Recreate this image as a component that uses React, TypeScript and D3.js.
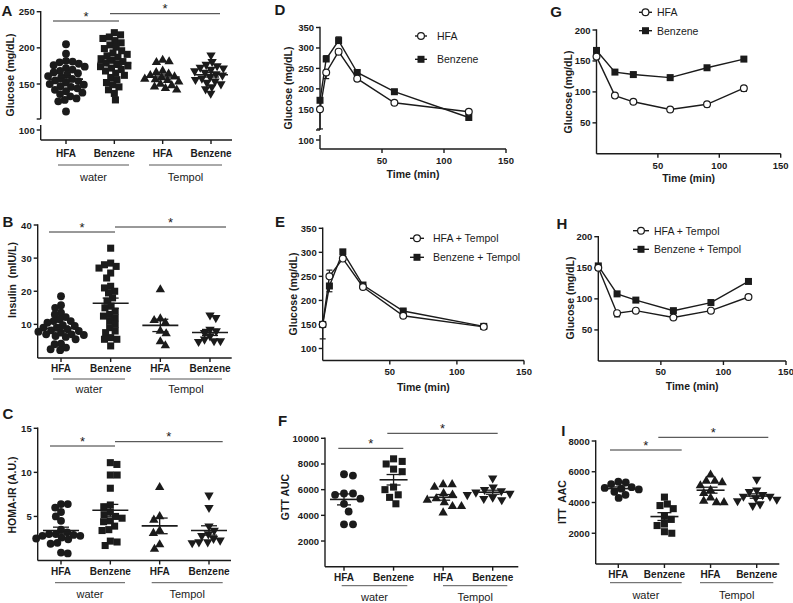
import React, { useEffect, useRef } from 'react';
import * as d3 from 'd3';

const FONT = '"Liberation Sans", Arial, Helvetica, sans-serif';
const INK = '#1b1b1b';

// ---------- category / group labels ----------
const groupLabels = ['HFA', 'Benzene', 'HFA', 'Benzene'];
const treatmentLabels = ['water', 'Tempol'];

// ---------- A: fasting glucose (mg/dL) ----------
const glucoseWaterHFA = [205, 192, 182, 181, 180, 178, 176, 174, 172, 170, 168, 166, 165, 163, 161, 159, 157, 155, 154, 152, 150, 149, 147, 146, 144, 142, 140, 138, 136, 133, 130, 128, 126, 112];
const glucoseWaterBenzene = [221, 218, 215, 213, 210, 207, 204, 201, 199, 196, 193, 191, 189, 187, 185, 183, 181, 179, 177, 175, 174, 172, 170, 168, 165, 162, 159, 156, 152, 149, 146, 142, 137, 128];
const glucoseTempolHFA = [183, 181, 180, 168, 166, 164, 162, 160, 159, 157, 156, 155, 153, 150, 148, 146, 144, 142];
const glucoseTempolBenzene = [190, 181, 177, 175, 173, 172, 170, 168, 166, 164, 162, 160, 158, 156, 154, 152, 150, 146, 143, 137];
const glucoseTicks = [150, 200, 250];

// ---------- B: insulin (mIU/L) ----------
const insulinWaterHFA = [18.5, 15.8, 15, 13.5, 12.2, 13, 11.5, 11, 10.5, 11, 9.8, 9.5, 9, 8.5, 8.2, 9, 7.8, 7.5, 8, 7, 6.8, 6.5, 6.2, 7, 5.5, 4.2, 4, 3, 2.5, 2.2];
const insulinWaterBenzene = [33, 28.5, 28, 27.5, 27, 25.5, 24, 21.5, 21, 20, 19.5, 18, 17, 15.5, 15, 14, 13, 12.5, 12, 11, 10, 9, 8, 7.5, 6, 5.5, 5.5, 3.5];
const insulinTempolHFA = [20.5, 11.7, 11.2, 10.5, 8, 7.2, 4.8, 3.6];
const insulinTempolBenzene = [12.8, 12, 8.5, 8, 7.5, 6.5, 5.5, 5, 5, 4.8];
const insulinTicks = [10, 20, 30, 40];

// ---------- C: HOMA-IR (A.U.) ----------
const homaWaterHFA = [6.4, 6.4, 6.0, 5.5, 5.0, 4.5, 3.5, 3.2, 3.0, 2.8, 3.0, 2.9, 2.8, 2.6, 2.5, 2.4, 2.0, 1.9, 0.9, 0.8];
const homaWaterBenzene = [11.1, 10.9, 9.7, 9.7, 8.2, 6.3, 6.1, 5.5, 5.2, 5.0, 4.8, 4.5, 4.4, 3.9, 3.5, 3.4, 2.2, 2.1, 1.7];
const homaTempolHFA = [8.3, 5.0, 4.6, 3.4, 3.1, 1.8, 1.3];
const homaTempolBenzene = [7.4, 6.0, 3.9, 3.4, 3.0, 2.8, 2.5, 2.3, 2.1, 2.1, 2.0];
const homaTicks = [5, 10, 15];

// ---------- F: GTT AUC ----------
const gttAucWaterHFA = [7200, 7100, 5700, 5700, 5600, 5300, 4900, 4300, 3300, 3300];
const gttAucWaterBenzene = [8400, 8200, 8000, 7600, 7400, 6200, 6000, 5600, 5400, 4900];
const gttAucTempolHFA = [6400, 6400, 6200, 5700, 5600, 5300, 5200, 5000, 4700, 4700, 4200];
const gttAucTempolBenzene = [6900, 6200, 6000, 5900, 5800, 5700, 5600, 5400, 5300, 5200];
const gttAucTicks = [2000, 4000, 6000, 8000, 10000];

// ---------- I: ITT AAC ----------
const ittAacWaterHFA = [5350, 5300, 5200, 5000, 4950, 4900, 4850, 4700, 4500, 4300];
const ittAacWaterBenzene = [4350, 3900, 3800, 3600, 3100, 2900, 2600, 2500, 2100, 2000];
const ittAacTempolHFA = [5800, 5400, 5400, 5300, 5100, 4800, 4600, 4300, 4100, 4000, 4000];
const ittAacTempolBenzene = [5500, 4800, 4700, 4500, 4400, 4400, 4300, 4200, 4100, 3900, 3800];
const ittAacTicks = [2000, 4000, 6000, 8000];

// ---------- D/E: GTT time courses ----------
const gttTimes = [0, 5, 15, 30, 60, 120];
const gttHFA = [150, 240, 291, 225, 166, 144];
const gttHFASem = [48, 15, 6, 4, 3, 4];
const gttBenzene = [172, 273, 318, 240, 193, 130];
const gttBenzeneSem = [6, 8, 9, 5, 4, 4];
const gttTempolHFA = [150, 250, 287, 228, 168, 145];
const gttTempolHFASem = [30, 13, 5, 3, 3, 3];
const gttTempolBenzene = [150, 230, 301, 232, 178, 146];
const gttTempolBenzeneSem = [5, 12, 4, 4, 3, 3];
const gttGlucoseTicks = [150, 200, 250, 300, 350];
const gttTempolTicks = [100, 150, 200, 250, 300, 350];

// ---------- G/H: ITT time courses ----------
const ittTimes = [0, 15, 30, 60, 90, 120];
const ittHFA = [157, 94, 84, 71.5, 80, 106];
const ittHFASem = [4, 3, 2, 2, 4, 5];
const ittBenzene = [167, 132, 128, 123, 139, 153];
const ittBenzeneSem = [4, 3, 3, 4, 3, 3];
const ittTempolHFA = [150, 77, 81, 70, 81, 103];
const ittTempolHFASem = [4, 6, 2, 2, 2, 2];
const ittTempolBenzene = [153, 108, 98, 81, 94, 128];
const ittTempolBenzeneSem = [3, 3, 3, 3, 4, 4];
const ittTicks = [50, 100, 150, 200];
const timeTicks = [50, 100, 150];

// ---------- layouts ----------
const scatterLayouts = [
  {
    letter: 'A', letterPos: [7, 10], axisX: 40.7, axisRight: 232, axisBottom: 140,
    catRange: [66, 211], yDomain: [150, 250], yRange: [84, 11.7], yTicks: glucoseTicks,
    brk: { upperEnd: 119, lowerStart: 125, value: 100, y: 130 },
    catLabelY: 153, groupLineY: 165, groupTextY: 177, groupSpans: [[58, 129], [149, 222]],
    sig: [[53, 119, 21], [110, 220, 13.7]], ylabel: 'Glucose (mg/dL)', ylabelPos: [10, 75],
    series: [glucoseWaterHFA, glucoseWaterBenzene, glucoseTempolHFA, glucoseTempolBenzene],
    meanHalf: 17, semHalf: 8, dotGap: 6.6,
  },
  {
    letter: 'B', letterPos: [8, 221], axisX: 37.7, axisRight: 231.7, axisBottom: 358,
    catRange: [61, 210], yDomain: [0, 40], yRange: [357.5, 225], yTicks: insulinTicks,
    catLabelY: 368, groupLineY: 379, groupTextY: 388.5, groupSpans: [[53, 125], [150, 222]],
    sig: [[49, 115, 232], [115, 226, 227]], ylabel: 'Insulin  (mIU/L)', ylabelPos: [12, 280],
    series: [insulinWaterHFA, insulinWaterBenzene, insulinTempolHFA, insulinTempolBenzene],
    meanHalf: 18, semHalf: 8, dotGap: 6.4,
  },
  {
    letter: 'C', letterPos: [8, 413], axisX: 37.7, axisRight: 231, axisBottom: 560.5,
    catRange: [61, 209], yDomain: [0, 15], yRange: [560.5, 428.3], yTicks: homaTicks,
    catLabelY: 571.7, groupLineY: 582.7, groupTextY: 593.5, groupSpans: [[55, 125], [151.7, 222.7]],
    sig: [[50, 115, 446], [115, 222.7, 441.7]], ylabel: 'HOMA-IR (A.U.)', ylabelPos: [12, 495],
    series: [homaWaterHFA, homaWaterBenzene, homaTempolHFA, homaTempolBenzene],
    meanHalf: 18, semHalf: 8, dotGap: 6.8,
  },
  {
    letter: 'F', letterPos: [282.5, 420], axisX: 325, axisRight: 518.3, axisBottom: 566.7,
    catRange: [344, 492.7], yDomain: [0, 10000], yRange: [566.7, 438.3], yTicks: gttAucTicks,
    catLabelY: 577.7, groupLineY: 585.7, groupTextY: 597, groupSpans: [[341.7, 407.3], [443, 507.3]],
    sig: [[338.3, 403.3, 448.3], [387.3, 497.7, 433.3]], ylabel: 'GTT AUC', ylabelPos: [285, 497],
    series: [gttAucWaterHFA, gttAucWaterBenzene, gttAucTempolHFA, gttAucTempolBenzene],
    meanHalf: 14, semHalf: 7, dotGap: 9,
  },
  {
    letter: 'I', letterPos: [563.3, 430], axisX: 595.7, axisRight: 779.3, axisBottom: 564,
    catRange: [618.3, 756.7], yDomain: [0, 8000], yRange: [564, 441], yTicks: ittAacTicks,
    catLabelY: 574, groupLineY: 582.7, groupTextY: 594.5, groupSpans: [[610, 681.7], [700, 773.3]],
    sig: [[610, 681.7, 450], [658.3, 768.3, 437.3]], ylabel: 'ITT  AAC', ylabelPos: [562, 502],
    series: [ittAacWaterHFA, ittAacWaterBenzene, ittAacTempolHFA, ittAacTempolBenzene],
    meanHalf: 14, semHalf: 7, dotGap: 7.5,
  },
];

const lineLayouts = [
  {
    letter: 'D', letterPos: [280, 9.5], axisX: 320, xRange: [320, 506], yDomain: [150, 350], yRange: [109.3, 27.5],
    yTicks: gttGlucoseTicks, brk: { upperEnd: 130, lowerStart: 135, value: 100, y: 140 }, axisBottom: 149,
    xTickLabelY: 160, titleY: 174, ylabelPos: [288, 88],
    legend: { ys: [36, 59.3], sx1: 415, sx2: 427, tx: 437, labels: ['HFA', 'Benzene'] },
    times: gttTimes, series: [[gttHFA, gttHFASem], [gttBenzene, gttBenzeneSem]],
  },
  {
    letter: 'E', letterPos: [280, 221.7], axisX: 322.7, xRange: [322.7, 524], yDomain: [75, 350], yRange: [360.5, 228.3],
    yTicks: gttTempolTicks, axisBottom: 360.5, xTickLabelY: 371, titleY: 386.7, ylabelPos: [293, 294],
    legend: { ys: [238.3, 257.3], sx1: 410, sx2: 424, tx: 433, labels: ['HFA + Tempol', 'Benzene + Tempol'] },
    times: gttTimes, series: [[gttTempolHFA, gttTempolHFASem], [gttTempolBenzene, gttTempolBenzeneSem]],
  },
  {
    letter: 'G', letterPos: [556, 11.7], axisX: 596.5, xRange: [596.5, 780.7], yDomain: [0, 200], yRange: [153.8, 30],
    yTicks: ittTicks, axisBottom: 153.8, xTickLabelY: 165.7, titleY: 178.3, ylabelPos: [568.3, 92],
    legend: { ys: [12.3, 30.7], sx1: 639, sx2: 652, tx: 657, labels: ['HFA', 'Benzene'] },
    times: ittTimes, series: [[ittHFA, ittHFASem], [ittBenzene, ittBenzeneSem]],
  },
  {
    letter: 'H', letterPos: [562, 223], axisX: 598.3, xRange: [598.3, 786], yDomain: [0, 200], yRange: [361, 236.7],
    yTicks: ittTicks, axisBottom: 361, xTickLabelY: 371.7, titleY: 385.7, ylabelPos: [570, 298],
    legend: { ys: [230.7, 249.3], sx1: 633, sx2: 649, tx: 654, labels: ['HFA + Tempol', 'Benzene + Tempol'] },
    times: ittTimes, series: [[ittTempolHFA, ittTempolHFASem], [ittTempolBenzene, ittTempolBenzeneSem]],
  },
];

// ---------- helpers ----------
function txt(g: any, x: number, y: number, s: string, size: number, weight: string | number, anchor = 'middle', baseline = 'central') {
  return g.append('text')
    .attr('x', x).attr('y', y)
    .attr('font-family', FONT).attr('font-size', size).attr('font-weight', weight)
    .attr('text-anchor', anchor).attr('dominant-baseline', baseline)
    .attr('fill', INK).style('white-space', 'pre')
    .text(s);
}

function seg(g: any, x1: number, y1: number, x2: number, y2: number, w = 1.4, color = INK) {
  g.append('line').attr('x1', x1).attr('y1', y1).attr('x2', x2).attr('y2', y2)
    .attr('stroke', color).attr('stroke-width', w);
}

function beeswarm(ys: number[], d: number): number[] {
  const order = ys.map((_, i) => i).sort((a, b) => ys[a] - ys[b]);
  const placed: { x: number; y: number }[] = [];
  const xs = new Array(ys.length).fill(0);
  let flip = 1;
  for (const i of order) {
    const y = ys[i];
    const intervals: [number, number][] = [];
    for (const p of placed) {
      const dy = Math.abs(p.y - y);
      if (dy < d) {
        const dx = Math.sqrt(d * d - dy * dy);
        intervals.push([p.x - dx, p.x + dx]);
      }
    }
    const cands = [0];
    intervals.forEach(([a, b]) => cands.push(a, b));
    cands.sort((a, b) => Math.abs(a) - Math.abs(b) || (a - b) * flip);
    let best = 0;
    for (const c of cands) {
      if (intervals.every(([a, b]) => c <= a + 1e-6 || c >= b - 1e-6)) { best = c; break; }
    }
    flip = -flip;
    xs[i] = best;
    placed.push({ x: best, y });
  }
  return xs;
}

function drawYAxis(g: any, y: any, L: any) {
  const top = y(L.yDomain[1]);
  const bottom = L.brk ? L.brk.upperEnd : L.axisBottom;
  seg(g, L.axisX, top - 0.7, L.axisX, bottom);
  if (L.brk) {
    seg(g, L.axisX - 4, L.brk.upperEnd, L.axisX, L.brk.upperEnd);
    seg(g, L.axisX, L.brk.lowerStart, L.axisX, L.axisBottom);
    seg(g, L.axisX - 4, L.brk.y, L.axisX, L.brk.y);
    txt(g, L.axisX - 6, L.brk.y, String(L.brk.value), 9.5, 'bold', 'end');
  }
  L.yTicks.forEach((t: number) => {
    seg(g, L.axisX - 4, y(t), L.axisX, y(t));
    txt(g, L.axisX - 6, y(t), String(t), 9.5, 'bold', 'end');
  });
}

const SYMS = [d3.symbolCircle, d3.symbolSquare, d3.symbolTriangle, d3.symbolTriangle];
const SIZES = [48, 50, 38, 38];

function drawScatter(svg: any, L: any) {
  const g = svg.append('g');
  const x = d3.scalePoint<number>().domain([0, 1, 2, 3]).range(L.catRange);
  const y = d3.scaleLinear().domain(L.yDomain).range(L.yRange);
  drawYAxis(g, y, L);
  seg(g, L.axisX, L.axisBottom, L.axisRight, L.axisBottom);
  groupLabels.forEach((lab, i) => {
    const cx = x(i)!;
    seg(g, cx, L.axisBottom, cx, L.axisBottom + 4);
    txt(g, cx, L.catLabelY, lab, 10, 'bold');
  });
  treatmentLabels.forEach((lab, i) => {
    const [a, b] = L.groupSpans[i];
    seg(g, a, L.groupLineY, b, L.groupLineY, 1, '#555');
    txt(g, (a + b) / 2, L.groupTextY, lab, 11, 'normal');
  });
  L.series.forEach((vals: number[], si: number) => {
    const cx = x(si)!;
    const ys = vals.map((v) => y(v));
    const offs = beeswarm(ys, L.dotGap);
    const sym = d3.symbol().type(SYMS[si]).size(SIZES[si]);
    vals.forEach((_, k) => {
      g.append('path').attr('d', sym())
        .attr('transform', `translate(${cx + offs[k]},${ys[k]})${si === 3 ? ' rotate(180)' : ''}`)
        .attr('fill', INK);
    });
    const m = d3.mean(vals)!;
    const sem = d3.deviation(vals)! / Math.sqrt(vals.length);
    seg(g, cx - L.meanHalf, y(m), cx + L.meanHalf, y(m), 1.6);
    seg(g, cx, y(m - sem), cx, y(m + sem), 1.3);
    seg(g, cx - L.semHalf, y(m - sem), cx + L.semHalf, y(m - sem), 1.3);
    seg(g, cx - L.semHalf, y(m + sem), cx + L.semHalf, y(m + sem), 1.3);
  });
  L.sig.forEach(([a, b, yy]: number[]) => {
    seg(g, a, yy, b, yy, 1, '#333');
    txt(g, (a + b) / 2, yy - 0.5, '*', 13, 'normal', 'middle', 'auto');
  });
  txt(g, L.ylabelPos[0], L.ylabelPos[1], L.ylabel, 10.5, 'bold')
    .attr('transform', `rotate(-90,${L.ylabelPos[0]},${L.ylabelPos[1]})`);
  txt(g, L.letterPos[0], L.letterPos[1], L.letter, 15, 'bold');
}

function marker(g: any, kind: number, cx: number, cy: number) {
  if (kind === 0) {
    g.append('circle').attr('cx', cx).attr('cy', cy).attr('r', 3.4)
      .attr('fill', '#fff').attr('stroke', INK).attr('stroke-width', 1.2);
  } else {
    g.append('rect').attr('x', cx - 3.5).attr('y', cy - 3.5).attr('width', 7).attr('height', 7).attr('fill', INK);
  }
}

function drawLine(svg: any, L: any) {
  const g = svg.append('g');
  const x = d3.scaleLinear().domain([0, 150]).range(L.xRange);
  const y = d3.scaleLinear().domain(L.yDomain).range(L.yRange);
  drawYAxis(g, y, L);
  seg(g, L.axisX, L.axisBottom, L.xRange[1], L.axisBottom);
  timeTicks.forEach((t) => {
    seg(g, x(t), L.axisBottom, x(t), L.axisBottom + 4);
    txt(g, x(t), L.xTickLabelY, String(t), 9.5, 'bold');
  });
  txt(g, (L.xRange[0] + L.xRange[1]) / 2, L.titleY, 'Time (min)', 10.5, 'bold');
  txt(g, L.ylabelPos[0], L.ylabelPos[1], 'Glucose (mg/dL)', 10.5, 'bold')
    .attr('transform', `rotate(-90,${L.ylabelPos[0]},${L.ylabelPos[1]})`);

  const times: number[] = L.times;
  L.series.forEach(([vals, sems]: number[][], si: number) => {
    const other = L.series[1 - si][0];
    vals.forEach((v, k) => {
      const dir = v > other[k] ? 1 : v < other[k] ? -1 : (si === 0 ? -1 : 1);
      const end = v + dir * sems[k];
      const px = x(times[k]);
      seg(g, px, y(v), px, y(end), 1.2);
      seg(g, px - 3, y(end), px + 3, y(end), 1.2);
    });
  });
  const lineGen = d3.line<number>().x((_, k) => x(times[k])).y((v) => y(v));
  L.series.forEach(([vals]: number[][]) => {
    g.append('path').attr('d', lineGen(vals)).attr('fill', 'none').attr('stroke', INK).attr('stroke-width', 1.4);
  });
  [1, 0].forEach((si) => {
    const vals = L.series[si][0];
    vals.forEach((v: number, k: number) => marker(g, si, x(times[k]), y(v)));
  });
  const lg = L.legend;
  lg.labels.forEach((lab: string, i: number) => {
    const yy = lg.ys[i];
    seg(g, lg.sx1, yy, lg.sx2, yy, 1.4);
    marker(g, i, (lg.sx1 + lg.sx2) / 2, yy);
    txt(g, lg.tx, yy, lab, 10.5, 'normal', 'start');
  });
  txt(g, L.letterPos[0], L.letterPos[1], L.letter, 15, 'bold');
}

export default function App() {
  const ref = useRef<SVGSVGElement>(null);
  useEffect(() => {
    const svg = d3.select(ref.current);
    svg.selectAll('*').remove();
    scatterLayouts.forEach((L) => drawScatter(svg, L));
    lineLayouts.forEach((L) => drawLine(svg, L));
  }, []);
  return (
    <svg
      ref={ref}
      width={793}
      height={603}
      style={{ position: 'absolute', left: 0, top: 0, background: '#fff' }}
    />
  );
}
